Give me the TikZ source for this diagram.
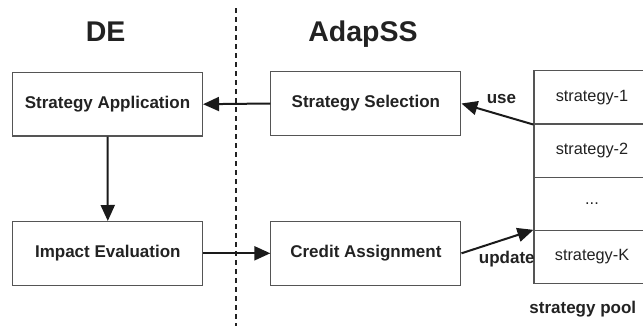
\documentclass[tikz,border=0pt]{standalone}
\usepackage{fontspec}
\setmainfont{Liberation Sans}
\usetikzlibrary{arrows.meta}
\definecolor{txt}{HTML}{222222}
\definecolor{boxgray}{HTML}{555555}
\definecolor{arrowc}{HTML}{1A1A1A}
\begin{document}
\begin{tikzpicture}[x=1pt,y=-1pt,
  box/.style={draw=boxgray, line width=1.1pt, minimum width=190pt, minimum height=63.5pt, inner sep=0pt, font=\fontsize{17}{20}\selectfont\bfseries, text=txt},
  poolrow/.style={draw=boxgray, line width=1.1pt, minimum width=116pt, minimum height=53.2pt, inner sep=0pt, font=\fontsize{16.3}{19}\selectfont, text=txt},
  arr/.style={line width=2pt, draw=arrowc, -{Triangle[length=16pt,width=14pt]}},
  lbl/.style={font=\fontsize{17}{20}\selectfont\bfseries, text=txt, inner sep=0pt, anchor=base},
  titletext/.style={font=\fontsize{28.5}{32}\selectfont\bfseries, text=txt, inner sep=0pt, anchor=base},
  dotline/.style={draw=txt, line width=1.8pt, dash pattern=on 4.5pt off 4.5pt}]
\useasboundingbox (0,0) rectangle (643,325);
\clip (0,0) rectangle (643,325);

\node[titletext] (de) at (105.6,41.7) {DE};
\node[titletext] (ad) at (363,41.5) {AdapSS};

\coordinate (dtop) at (235.8,8.3);
\coordinate (dbot) at (235.8,330);
\draw[dotline] (dtop) -- (dbot);

\node[box] (sa) at (107.5,104.2) {Strategy Application};
\node[box] (ie) at (107.8,253.3) {Impact Evaluation};
\node[box] (ss) at (365.9,103.5) {Strategy Selection};
\node[box] (ca) at (365.9,253.3) {Credit Assignment};

\node[poolrow] (r1) at (592,97.4) {strategy-1};
\node[poolrow] (r2) at (592,150.6) {strategy-2};
\node[poolrow] (r3) at (592,203.8) {...};
\node[poolrow] (r4) at (592,257.0) {strategy-K};

\draw[arr] (ss.west) -- (sa.east);
\draw[arr] (sa.south) -- (ie.north);
\draw[arr] (ie.east) -- (ca.west);
\draw[arr] (r1.south west) -- (ss.east);
\draw[arr] (ca.east) -- (r4.north west);

\node[lbl] (use) at (501.4,103.3) {use};
\node[lbl] (upd) at (506.8,263) {update};
\node[lbl] (pool) at (582.8,313) {strategy pool};
\end{tikzpicture}
\end{document}
